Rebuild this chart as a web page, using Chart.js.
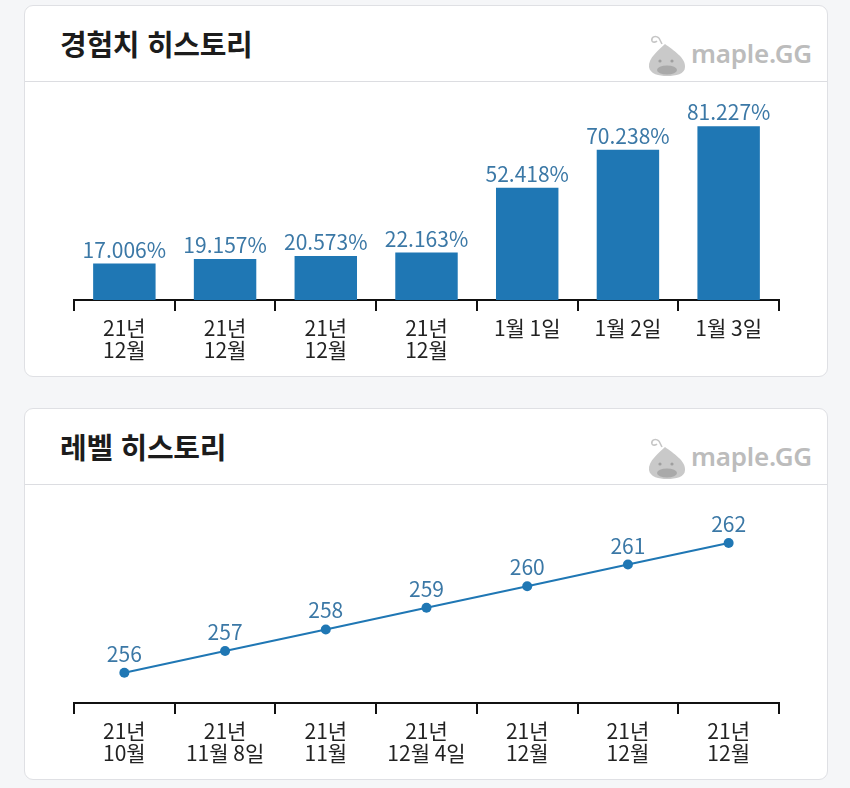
<!DOCTYPE html>
<html lang="ko">
<head>
<meta charset="utf-8">
<script src="https://cdn.jsdelivr.net/npm/chart.js@4.4.1/dist/chart.umd.min.js"></script>
<style>
  html, body { margin:0; padding:0; background:#f5f6f8; width:850px; height:788px; overflow:hidden; }
  body { position:relative; font-family:"Noto Sans CJK KR", "Noto Sans", sans-serif; }
  .card { position:absolute; left:24px; width:802px; background:#fff; border:1px solid #dfe0e4; border-radius:9px; box-sizing:content-box; }
  .head { position:absolute; left:0; top:0; width:100%; height:75px; border-bottom:1px solid #dcdde1; }
  .title { position:absolute; left:35px; top:23px; font-size:29px; font-weight:700; color:#1c1c1c; letter-spacing:-0.3px; line-height:1; }
  .logo { position:absolute; left:620px; top:26px; width:170px; height:46px; }
  .logo .txt { position:absolute; left:46px; top:3px; font-family:"Noto Sans", sans-serif; font-size:26px; font-weight:600; color:#bcbcbc; letter-spacing:-0.2px; }
  .wrap { position:absolute; left:24px; }
</style>
</head>
<body>
<div class="card" style="top:5px;height:370px;">
  <div class="head">
    <div class="title">경험치 히스토리</div>
    <div class="logo">
      <svg width="46" height="46" viewBox="0 0 46 46" style="position:absolute;left:0;top:0">
        <path d="M14 6 C10 3 6 5 7 9 C8 11 11 10 12 9" fill="none" stroke="#c6c6c6" stroke-width="1.6"/>
        <path d="M14 6 L17 12" stroke="#c6c6c6" stroke-width="1.6"/>
        <path d="M20 12 C14 18 3 26 4 35 C5 42 14 44 22 44 C31 44 40 42 40 35 C41 26 28 18 20 12 Z" fill="#c9c9c9"/>
        <ellipse cx="22" cy="38" rx="10" ry="4.5" fill="#a9a9a9"/>
        <circle cx="15" cy="29" r="1.6" fill="#9f9f9f"/>
        <circle cx="27" cy="29" r="1.6" fill="#9f9f9f"/>
      </svg>
      <div class="txt">maple.GG</div>
    </div>
  </div>
</div>
<div class="card" style="top:408px;height:370px;">
  <div class="head">
    <div class="title">레벨 히스토리</div>
    <div class="logo">
      <svg width="46" height="46" viewBox="0 0 46 46" style="position:absolute;left:0;top:0">
        <path d="M14 6 C10 3 6 5 7 9 C8 11 11 10 12 9" fill="none" stroke="#c6c6c6" stroke-width="1.6"/>
        <path d="M14 6 L17 12" stroke="#c6c6c6" stroke-width="1.6"/>
        <path d="M20 12 C14 18 3 26 4 35 C5 42 14 44 22 44 C31 44 40 42 40 35 C41 26 28 18 20 12 Z" fill="#c9c9c9"/>
        <ellipse cx="22" cy="38" rx="10" ry="4.5" fill="#a9a9a9"/>
        <circle cx="15" cy="29" r="1.6" fill="#9f9f9f"/>
        <circle cx="27" cy="29" r="1.6" fill="#9f9f9f"/>
      </svg>
      <div class="txt">maple.GG</div>
    </div>
  </div>
</div>
<div class="wrap" style="top:82px;"><canvas id="expChart" width="804" height="294"></canvas></div>
<div class="wrap" style="top:486px;"><canvas id="lvlChart" width="804" height="293"></canvas></div>

<script>
// ---- data ----
const expLabels = [
  ['21년', '12월'],
  ['21년', '12월'],
  ['21년', '12월'],
  ['21년', '12월'],
  '1월 1일',
  '1월 2일',
  '1월 3일'
];
const expValues = [17.006, 19.157, 20.573, 22.163, 52.418, 70.238, 81.227];

const levelLabels = [
  ['21년', '10월'],
  ['21년', '11월 8일'],
  ['21년', '11월'],
  ['21년', '12월 4일'],
  ['21년', '12월'],
  ['21년', '12월'],
  ['21년', '12월']
];
const levelValues = [256, 257, 258, 259, 260, 261, 262];

// ---- styling ----
const BAR_COLOR = '#1f77b4';
const LABEL_COLOR = '#3b78a6';
const FONT = '"Noto Sans CJK KR", "Noto Sans", sans-serif';

const valueLabels = {
  id: 'valueLabels',
  afterDatasetsDraw(chart, args, opts) {
    const ctx = chart.ctx;
    chart.data.datasets.forEach((ds, di) => {
      const meta = chart.getDatasetMeta(di);
      meta.data.forEach((el, i) => {
        ctx.save();
        ctx.font = '21px ' + FONT;
        ctx.fillStyle = LABEL_COLOR;
        ctx.textAlign = 'center';
        ctx.textBaseline = 'alphabetic';
        const v = ds.data[i];
        ctx.fillText(v.toFixed(opts.decimals) + (opts.suffix || ''), el.x, el.y - opts.offset);
        ctx.restore();
      });
    });
  }
};

function xScale() {
  return {
    offset: true,
    grid: { display: true, drawOnChartArea: false, drawTicks: true, tickLength: 11, color: '#111', lineWidth: 2, offset: true },
    border: { display: true, color: '#111', width: 2 },
    ticks: {
      color: '#222', padding: 6, maxRotation: 0, autoSkip: false,
      font: { family: FONT, size: 21, lineHeight: 1.05 }
    },
    afterFit(s) { s.height = 76; }
  };
}

new Chart(document.getElementById('expChart'), {
  type: 'bar',
  data: {
    labels: expLabels,
    datasets: [{ data: expValues, backgroundColor: BAR_COLOR, borderWidth: 0, barPercentage: 0.62, categoryPercentage: 1 }]
  },
  options: {
    responsive: false, animation: false, devicePixelRatio: 1,
    layout: { padding: { left: 50, right: 49, top: 4, bottom: 0 } },
    plugins: { legend: { display: false }, tooltip: { enabled: false }, valueLabels: { decimals: 3, suffix: '%', offset: 6 } },
    scales: {
      x: xScale(),
      y: { display: false, min: 0, max: 100 }
    }
  },
  plugins: [valueLabels]
});

new Chart(document.getElementById('lvlChart'), {
  type: 'line',
  data: {
    labels: levelLabels,
    datasets: [{
      data: levelValues, borderColor: BAR_COLOR, borderWidth: 2, backgroundColor: BAR_COLOR,
      pointRadius: 5, pointBackgroundColor: BAR_COLOR, pointBorderWidth: 0, tension: 0, fill: false
    }]
  },
  options: {
    responsive: false, animation: false, devicePixelRatio: 1,
    layout: { padding: { left: 50, right: 49, top: 4, bottom: 0 } },
    plugins: { legend: { display: false }, tooltip: { enabled: false }, valueLabels: { decimals: 0, suffix: '', offset: 11 } },
    scales: {
      x: xScale(),
      y: { display: false, min: 254.6, max: 264.4 }
    }
  },
  plugins: [valueLabels]
});
</script>
</body>
</html>
